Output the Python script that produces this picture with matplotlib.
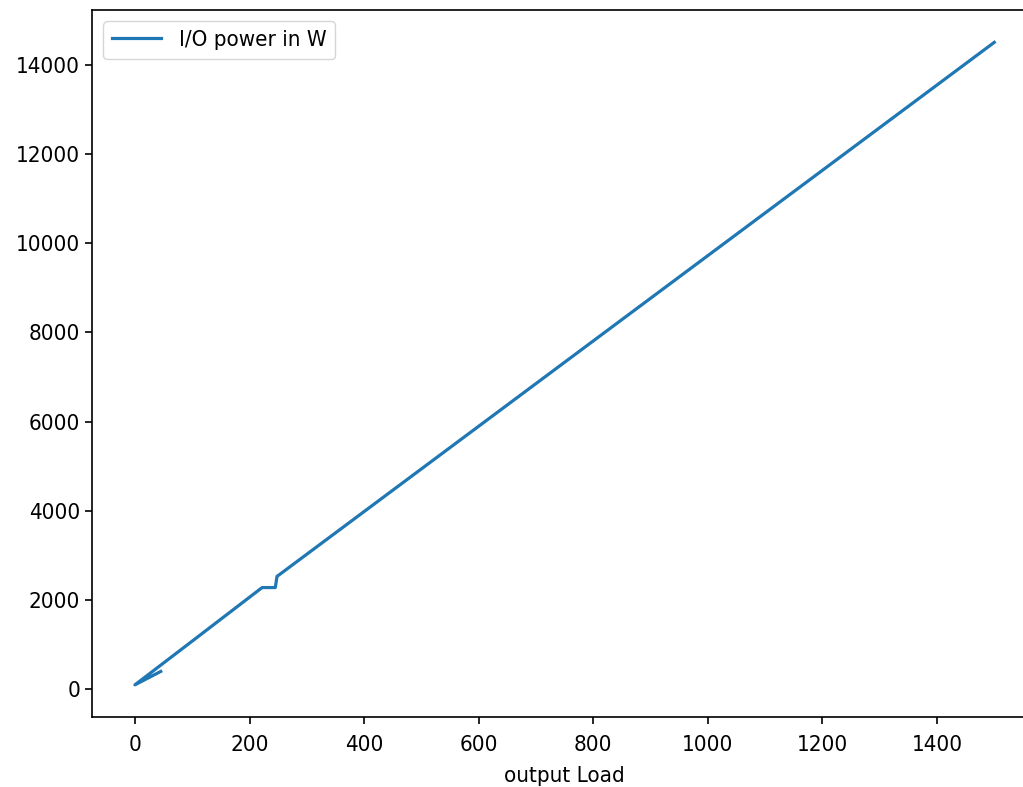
import matplotlib
matplotlib.use("Agg")
import matplotlib.pyplot as plt

plt.rcParams['font.family'] = ['DejaVu Sans']
plt.rcParams['font.stretch'] = 'condensed'

# output load vs input/output power
load = [45, 0, 100, 222, 245, 248, 1500]
power = [400, 100, 1080, 2280, 2280, 2530, 14500]

fig = plt.figure(figsize=(10.23, 7.87), dpi=100)
ax = fig.add_axes([0.0899, 0.089, 0.924, 0.898])

ax.plot(load, power, color="#1f77b4", linewidth=2.3, label="I/O power in W")
ax.set_xlabel("output Load", fontsize=16, labelpad=8)
ax.tick_params(labelsize=16, length=5, width=1.2)
ax.tick_params(axis="x", pad=8)
for s in ax.spines.values():
    s.set_linewidth(1.2)
ax.spines["right"].set_visible(False)
ax.legend(loc="upper left", fontsize=16, handlelength=2.2)

fig.savefig("out.png", dpi=100)
